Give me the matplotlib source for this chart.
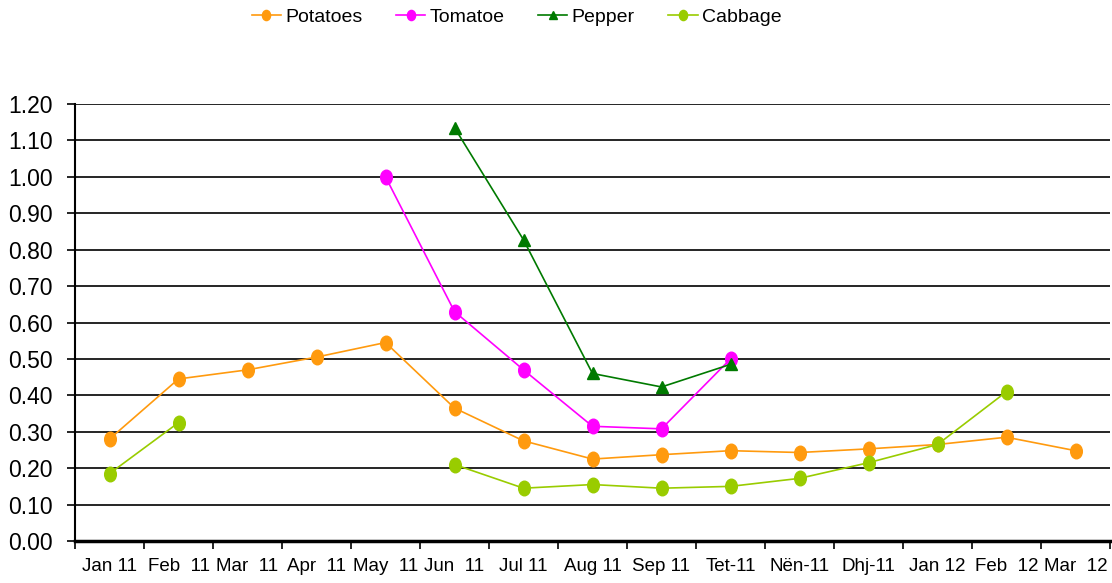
import numpy as np
import matplotlib
matplotlib.use("Agg")
import matplotlib.pyplot as plt
from matplotlib.path import Path

plt.rcParams['font.family'] = ['Liberation Sans', 'DejaVu Sans']

categories = ["Jan 11", "Feb  11", "Mar  11", "Apr  11", "May  11", "Jun  11", "Jul 11",
              "Aug 11", "Sep 11", "Tet-11", "Nën-11", "Dhj-11", "Jan 12", "Feb  12", "Mar  12"]
nan = np.nan
potatoes = [0.28, 0.445, 0.47, 0.505, 0.545, 0.365, 0.275, 0.225, 0.237, 0.248, 0.243, 0.253, 0.265, 0.285, 0.248]
tomatoe = [nan, nan, nan, nan, 1.00, 0.63, 0.47, 0.315, 0.308, 0.50, nan, nan, nan, nan, nan]
pepper = [nan, nan, nan, nan, nan, 1.135, 0.827, 0.46, 0.423, 0.485, nan, nan, nan, nan, nan]
cabbage = [0.185, 0.325, nan, nan, nan, 0.21, 0.145, 0.155, 0.145, 0.15, 0.172, 0.215, 0.265, 0.41, nan]

series = [("Potatoes", potatoes, "#FF9A0E", "o"),
          ("Tomatoe", tomatoe, "#FF00FF", "o"),
          ("Pepper", pepper, "#007A00", "^"),
          ("Cabbage", cabbage, "#99CC00", "o")]

circ = Path.unit_circle()
ellipse = Path(circ.vertices * np.array([0.8, 1.0]), circ.codes)

fig = plt.figure(figsize=(11.12, 5.83), dpi=100)
ax = fig.add_axes([75/1112, 1-541/583, (1110-75)/1112, (541-104)/583])

x = np.arange(len(categories))
for name, vals, col, mk in series:
    m = "^" if mk == "^" else ellipse
    ms = 8.5 if mk == "^" else 10.5
    ax.plot(x, vals, color=col, lw=1.2, marker=m, markersize=ms,
            markeredgecolor=col, markerfacecolor=col, label=name, zorder=3)

ax.set_xlim(-0.5, len(categories) - 0.5)
ax.set_ylim(0, 1.2)
ax.set_yticks(np.arange(0, 1.21, 0.1))
ax.set_yticklabels([f"{v:.2f}" for v in np.arange(0, 1.21, 0.1)], fontsize=16.5)
ax.yaxis.grid(True, color="black", lw=1.2)
ax.set_axisbelow(True)

ax.set_xticks(np.arange(-0.5, len(categories), 1.0))
ax.set_xticklabels([])
ax.set_xticks(x, minor=True)
ax.set_xticklabels(categories, minor=True, fontsize=13.5)
ax.tick_params(axis='x', which='minor', length=0, pad=12)
ax.tick_params(axis='x', which='major', length=6, width=1.2, direction='out')
ax.tick_params(axis='y', length=6, width=1.2, direction='out', pad=10)

for s in ["top", "right"]:
    ax.spines[s].set_visible(False)
ax.spines["left"].set_linewidth(1.5)
ax.spines["bottom"].set_linewidth(2.5)

fig.legend(loc="center", bbox_to_anchor=(0.4645, 1-17/583), ncol=4, frameon=False,
           fontsize=14, markerscale=0.7, handlelength=1.5, columnspacing=1.75,
           handletextpad=0.2)

fig.savefig("out.png", dpi=100)
